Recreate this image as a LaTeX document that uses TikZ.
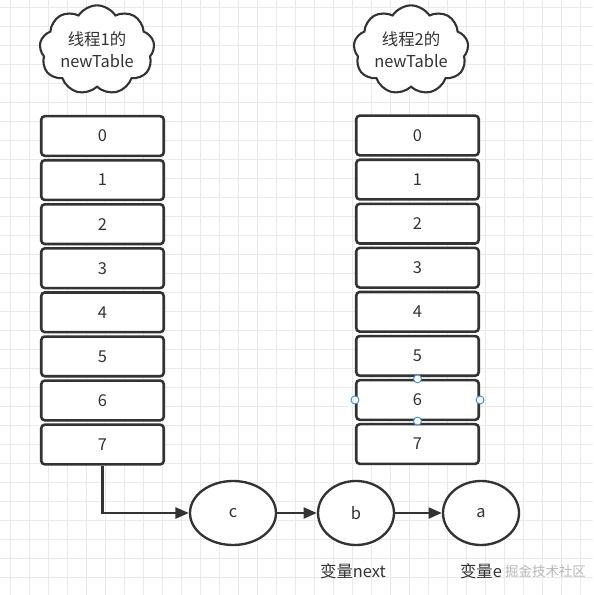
\documentclass[tikz,border=0pt]{standalone}
\usepackage{fontspec}
\setmainfont{Noto Sans CJK SC}
\usepackage{xcolor}
\definecolor{lineDark}{HTML}{333333}
\definecolor{textDark}{HTML}{333333}
\definecolor{gridGray}{HTML}{EAEAEA}
\definecolor{handleBlue}{HTML}{3D8EDB}
\definecolor{markGray}{HTML}{B8B8B8}
\usepackage{tikz}
\usetikzlibrary{shapes.geometric, shapes.symbols, arrows.meta, positioning}

\begin{document}
\begin{tikzpicture}[
    font=\fontsize{14}{18.5}\selectfont,
    cellbox/.style={draw=lineDark, fill=white, rectangle, rounded corners=3pt, line width=2.2pt, text=textDark, minimum width=3.675cm, minimum height=1.19cm, inner sep=0pt},
    cloudbox/.style={draw=lineDark, fill=white, cloud, cloud puffs=9, cloud puff arc=115, aspect=1.4, line width=1.8pt, align=center, text=textDark, minimum width=3.45cm, minimum height=2.4cm, inner sep=0pt},
    listnode/.style={draw=lineDark, fill=white, ellipse, line width=2pt, text=textDark, minimum width=2.28cm, minimum height=1.92cm, inner sep=0pt},
    varlabel/.style={text=textDark, inner sep=0pt},
    handle/.style={draw=handleBlue, fill=white, circle, line width=0.8pt, minimum size=0.24cm, inner sep=0pt},
    gridline/.style={draw=gridGray, line width=0.6pt},
    arrow/.style={-{Triangle[length=0.4cm, width=0.33cm]}, line width=2pt, draw=lineDark}
]

\useasboundingbox (0,0) rectangle (17.79,-17.85);
\fill[white] (0,0) rectangle (17.79,-17.85);

% background grid
\foreach \i in {0,...,30} \draw[gridline] (0.321+\i*0.57,0) -- (0.321+\i*0.57,-17.85);
\foreach \j in {0,...,31} \draw[gridline] (0,-0.231-\j*0.57) -- (17.79,-0.231-\j*0.57);

% thread 1 table
\node (cloudA) [cloudbox] at (2.91,-1.5) {线程1的\\newTable};
\node (l0) [cellbox] at (3.075,-4.08) {0};
\node (l1) [cellbox, below=0.055cm of l0] {1};
\node (l2) [cellbox, below=0.055cm of l1] {2};
\node (l3) [cellbox, below=0.055cm of l2] {3};
\node (l4) [cellbox, below=0.055cm of l3] {4};
\node (l5) [cellbox, below=0.055cm of l4] {5};
\node (l6) [cellbox, below=0.055cm of l5] {6};
\node (l7) [cellbox, below=0.055cm of l6] {7};

% thread 2 table
\node (cloudB) [cloudbox] at (12.33,-1.5) {线程2的\\newTable};
\node (r0) [cellbox] at (12.525,-4.065) {0};
\node (r1) [cellbox, below=0.055cm of r0] {1};
\node (r2) [cellbox, below=0.055cm of r1] {2};
\node (r3) [cellbox, below=0.055cm of r2] {3};
\node (r4) [cellbox, below=0.055cm of r3] {4};
\node (r5) [cellbox, below=0.055cm of r4] {5};
\node (r6) [cellbox, below=0.055cm of r5] {6};
\node (r7) [cellbox, below=0.055cm of r6] {7};

% selection handles on cell 6
\node (hN) [handle] at (r6.north) {};
\node (hS) [handle] at (r6.south) {};
\node (hW) [handle] at (r6.west) {};
\node (hE) [handle] at (r6.east) {};

% linked entries
\node (c) [listnode, minimum width=2.58cm] at (6.99,-15.39) {c};
\node (b) [listnode] at (10.68,-15.39) {b};
\node (a) [listnode] at (14.43,-15.39) {a};

\node (nextLbl) [varlabel] at (10.59,-17.13) {变量next};
\node (eLbl) [varlabel] at (14.43,-17.13) {变量e};
\node (mark) [varlabel, text=markGray, font=\fontsize{11.5}{14}\selectfont, right=0.08cm of eLbl] {掘金技术社区};

\draw [arrow] (l7.south) |- (c.west);
\draw [arrow] (c) -- (b);
\draw [arrow] (b) -- (a);

\end{tikzpicture}
\end{document}
